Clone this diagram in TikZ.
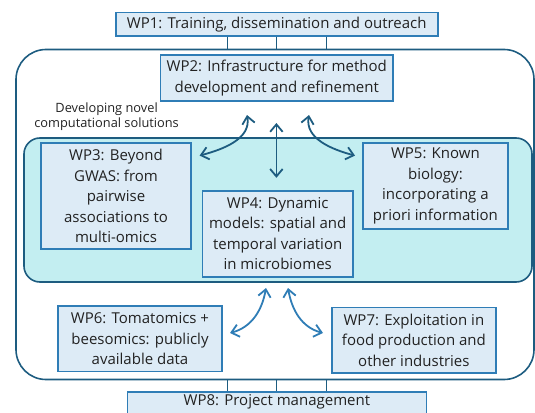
\documentclass[tikz,border=0pt]{standalone}
\usepackage{fontspec}
\setmainfont{Open Sans}
\usetikzlibrary{arrows.meta}

\definecolor{wpfill}{HTML}{DDEBF6}
\definecolor{wpline}{HTML}{2F7DB6}
\definecolor{frameline}{HTML}{1D5C80}
\definecolor{corefill}{HTML}{C3EEF1}
\definecolor{wptext}{HTML}{222222}

\tikzset{
  wp/.style={draw=wpline, fill=wpfill, line width=1.6pt, align=center, inner sep=1pt,
    text=wptext, font=\fontsize{15}{20.5}\selectfont},
  link/.style={draw=frameline, line width=1.4pt},
  flow/.style={draw=frameline, line width=1.8pt, {Straight Barb[length=2.6mm,width=4.4mm]}-{Straight Barb[length=2.6mm,width=4.4mm]}},
  flowlight/.style={flow, draw=wpline}
}

\begin{document}
\begin{tikzpicture}[x=1pt,y=-1pt]
\useasboundingbox (0,0) rectangle (535,412);

% outer frame and core region
\node[draw=frameline, line width=1.6pt, rounded corners=30pt, minimum width=518pt, minimum height=330pt, inner sep=0pt] (outer) at (275,214.5) {};
\node[draw=frameline, fill=corefill, line width=1.6pt, rounded corners=16pt, minimum width=508pt, minimum height=144pt, inner sep=0pt] (core) at (278,210) {};

% work packages
\node[wp, minimum width=322pt, minimum height=23.2pt] (wp1) at (276.7,24.2) {WP1: Training, dissemination and outreach};
\node[wp, minimum width=232.6pt, minimum height=45.4pt] (wp2) at (276.7,78) {WP2: Infrastructure for method\\development and refinement};
\node[wp, minimum width=150pt, minimum height=106pt] (wp3) at (116,196.2) {WP3: Beyond\\GWAS: from\\pairwise\\associations to\\multi-omics};
\node[wp, minimum width=150.6pt, minimum height=86pt] (wp4) at (277.7,233.7) {WP4: Dynamic\\models: spatial and\\temporal variation\\in microbiomes};
\node[wp, minimum width=145pt, minimum height=86pt] (wp5) at (435.4,186) {WP5: Known\\biology:\\incorporating a\\priori information};
\node[wp, minimum width=164pt, minimum height=65.6pt] (wp6) at (140,338.6) {WP6: Tomatomics +\\beesomics: publicly\\available data};
\node[wp, minimum width=163.7pt, minimum height=65.5pt] (wp7) at (413.9,340.2) {WP7: Exploitation in\\food production and\\other industries};
\node[wp, minimum width=299pt, text height=13pt, text depth=14pt, anchor=north] (wp8) at (276.9,391) {WP8: Project management};

\node[align=center, text=wptext, font=\fontsize{12.8}{14.8}\selectfont] (novel) at (106.6,117) {Developing novel\\computational solutions};

% links to WP1 and WP8
\foreach \dx in {-49.5,0,49.5} {
  \draw[link] ([xshift=\dx pt]wp1.south) -- ([xshift=\dx pt]wp1.south |- outer.north);
  \draw[link] ([xshift=\dx pt]wp1.south |- outer.south) -- ([xshift=\dx pt]wp1.south |- wp8.north);
}

% arrow ends
\coordinate (up1) at (247,115);
\coordinate (up2) at (276.4,123);
\coordinate (up3) at (309,115);
\coordinate (in3) at (199.6,155.6);
\coordinate (in4) at (276.4,177.8);
\coordinate (in5) at (355,155.6);
\coordinate (lo1) at (266,288);
\coordinate (lo2) at (288,288);
\coordinate (to6) at (230,333);
\coordinate (to7) at (323,333);

% arrows between WP2 and the core
\draw[flow] (up1) to[out=-80, in=15] (in3);
\draw[flow] (up2) -- (in4);
\draw[flow] (up3) to[out=-100, in=165] (in5);

% arrows between the core and WP6, WP7
\draw[flowlight] (lo1) to[out=-100, in=15] (to6);
\draw[flowlight] (lo2) to[out=-80, in=165] (to7);

\end{tikzpicture}
\end{document}
